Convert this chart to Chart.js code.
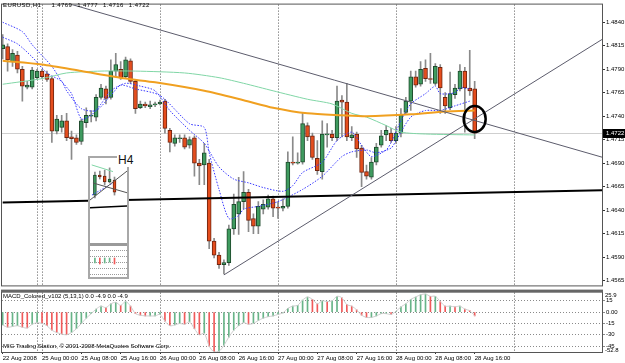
<!DOCTYPE html>
<html>
<head>
<meta charset="utf-8">
<script src="https://cdn.jsdelivr.net/npm/chart.js@4.4.1/dist/chart.umd.min.js"></script>
<style>
html,body{margin:0;padding:0;background:#fff;}
#wrap{position:relative;width:625px;height:363px;overflow:hidden;background:#fff;}
#wrap canvas{position:absolute;display:block;}
.t{position:absolute;font-family:"Liberation Sans",Arial,sans-serif;font-size:6px;line-height:7px;color:#000;white-space:pre;}
#inset{position:absolute;left:88px;top:156px;width:41px;height:123px;box-sizing:border-box;border:2px solid #a8a8a8;background:#fff;}
#h4{position:absolute;left:117px;top:153px;font-family:"Liberation Sans",Arial,sans-serif;font-size:12px;line-height:14px;background:#fff;padding:0 1px;color:#111;}
</style>
</head>
<body>
<div id="wrap">
  <canvas id="main" width="625" height="290" style="left:0;top:0;width:625px;height:290px"></canvas>
  <canvas id="macd" width="625" height="75" style="left:0;top:288px;width:625px;height:75px"></canvas>
  <div id="inset">
    <canvas id="miniPrice" width="37" height="85" style="left:0;top:0;width:37px;height:85px"></canvas>
    <div style="position:absolute;left:0;top:85px;width:37px;height:3px;background:#9a9a9a"></div>
    <canvas id="miniMacd" width="37" height="31" style="left:0;top:88px;width:37px;height:31px"></canvas>
  </div>
  <div id="h4">H4</div>
  <div class="t" id="title" style="left:3px;top:2px;letter-spacing:0.4px;word-spacing:3px"></div>
  <div class="t" id="macdLabel" style="left:3px;top:293px"></div>
  <div class="t" id="copy" style="left:3px;top:343px">MIG Trading Station, © 2001-2008 MetaQuotes Software Corp.</div>
</div>
<script>
// ---------- DATA ----------
const symbol = 'EURUSD,H1';
const opens  = [1.4812,1.4814,1.4798,1.4805,1.4790,1.4771,1.4771,1.4781,1.4788,1.4785,1.4780,1.4724,1.4728,1.4735,1.4718,1.4717,1.4713,1.4733,1.4740,1.4739,1.4760,1.4769,1.4760,1.4788,1.4790,1.4782,1.4799,1.4777,1.4749,1.4753,1.4750,1.4752,1.4753,1.4756,1.4725,1.4711,1.4716,1.4717,1.4709,1.4717,1.4690,1.4688,1.4690,1.4607,1.4592,1.4582,1.4584,1.4620,1.4636,1.4649,1.4659,1.4631,1.4623,1.4641,1.4643,1.4652,1.4643,1.4642,1.4644,1.4691,1.4690,1.4691,1.4730,1.4719,1.4695,1.4681,1.4720,1.4721,1.4717,1.4757,1.4755,1.4717,1.4721,1.4706,1.4681,1.4675,1.4691,1.4709,1.4720,1.4722,1.4714,1.4722,1.4744,1.4756,1.4782,1.4774,1.4791,1.4780,1.4775,1.4792,1.4760,1.4749,1.4763,1.4769,1.4788,1.4770,1.4769];
const highs  = [1.4827,1.4817,1.4811,1.4809,1.4793,1.4777,1.4792,1.4790,1.4790,1.4788,1.4782,1.4741,1.4741,1.4743,1.4724,1.4720,1.4737,1.4749,1.4746,1.4763,1.4774,1.4772,1.4800,1.4807,1.4798,1.4803,1.4801,1.4779,1.4756,1.4755,1.4756,1.4755,1.4757,1.4758,1.4727,1.4720,1.4720,1.4720,1.4718,1.4719,1.4694,1.4711,1.4694,1.4610,1.4595,1.4587,1.4624,1.4657,1.4675,1.4681,1.4662,1.4636,1.4649,1.4651,1.4656,1.4655,1.4649,1.4652,1.4702,1.4718,1.4701,1.4743,1.4733,1.4722,1.4714,1.4735,1.4732,1.4725,1.4772,1.4762,1.4775,1.4729,1.4723,1.4709,1.4688,1.4696,1.4711,1.4725,1.4730,1.4727,1.4729,1.4748,1.4760,1.4788,1.4788,1.4798,1.4800,1.4807,1.4796,1.4795,1.4765,1.4787,1.4774,1.4795,1.4792,1.4810,1.4777];
const lows   = [1.4801,1.4788,1.4793,1.4786,1.4756,1.4769,1.4769,1.4779,1.4780,1.4777,1.4712,1.4721,1.4723,1.4714,1.4694,1.4710,1.4710,1.4728,1.4734,1.4735,1.4758,1.4753,1.4758,1.4782,1.4779,1.4780,1.4775,1.4743,1.4748,1.4749,1.4748,1.4750,1.4752,1.4722,1.4702,1.4708,1.4712,1.4705,1.4706,1.4676,1.4667,1.4667,1.4599,1.4589,1.4578,1.4572,1.4581,1.4614,1.4614,1.4641,1.4617,1.4615,1.4615,1.4636,1.4641,1.4633,1.4631,1.4639,1.4642,1.4688,1.4689,1.4689,1.4714,1.4694,1.4678,1.4673,1.4707,1.4714,1.4714,1.4718,1.4714,1.4714,1.4696,1.4665,1.4673,1.4673,1.4688,1.4707,1.4714,1.4712,1.4711,1.4718,1.4742,1.4746,1.4771,1.4772,1.4777,1.4775,1.4773,1.4743,1.4743,1.4747,1.4759,1.4767,1.4723,1.4762,1.4716];
const closes = [1.4816,1.4800,1.4807,1.4790,1.4772,1.4773,1.4789,1.4788,1.4782,1.4779,1.4724,1.4737,1.4735,1.4717,1.4716,1.4712,1.4735,1.4741,1.4741,1.4760,1.4770,1.4759,1.4788,1.4795,1.4781,1.4800,1.4777,1.4748,1.4753,1.4751,1.4752,1.4753,1.4755,1.4727,1.4712,1.4717,1.4717,1.4707,1.4715,1.4690,1.4687,1.4701,1.4607,1.4592,1.4582,1.4584,1.4620,1.4646,1.4649,1.4659,1.4629,1.4623,1.4644,1.4646,1.4652,1.4642,1.4642,1.4644,1.4691,1.4690,1.4691,1.4732,1.4718,1.4696,1.4682,1.4721,1.4721,1.4717,1.4756,1.4755,1.4718,1.4720,1.4705,1.4680,1.4676,1.4691,1.4707,1.4719,1.4725,1.4714,1.4722,1.4741,1.4756,1.4782,1.4773,1.4790,1.4780,1.4779,1.4793,1.4770,1.4751,1.4764,1.4770,1.4788,1.4770,1.4767,1.4722];

// moving averages: [bar index, price]
const orangeMA = [[0,1.4799],[8,1.4795],[16,1.4788],[25,1.4780],[31,1.4776],[41,1.4767],[49,1.4757],[55,1.4749],[62,1.4743],[69,1.4741],[74,1.4740],[83,1.4742],[90,1.4745],[96,1.4746]];
const greenMA  = [[0,1.4774],[8,1.4780],[13,1.4786],[20,1.4788],[27,1.4788],[37,1.4786],[44,1.4781],[49,1.4775],[55,1.4767],[62,1.4758],[67,1.4753],[71,1.4743],[74,1.4739],[78,1.4730],[81,1.4723],[86,1.4721],[96,1.4720]];
const blueA = [[0,1.4840],[4,1.4830],[6,1.4816],[10,1.4793],[12,1.4777],[14,1.4764],[16,1.4737],[18,1.4741],[20,1.4753],[22,1.4767],[25,1.4775],[28,1.4772],[31,1.4767],[34,1.4746],[38,1.4725],[41,1.4711],[44,1.4686],[47,1.4673],[50,1.4669],[53,1.4664],[57,1.4660],[59,1.4666],[61,1.4680],[65,1.4691],[68,1.4714],[71,1.4723],[73,1.4709],[75,1.4697],[78,1.4704],[79,1.4712],[81,1.4735],[83,1.4753],[86,1.4764],[88,1.4772],[89,1.4764],[92,1.4765],[93,1.4770],[95,1.4769]];
const blueB = [[0,1.4824],[3,1.4817],[6,1.4803],[9,1.4786],[12,1.4777],[13,1.4767],[16,1.4748],[19,1.4746],[22,1.4762],[24,1.4773],[27,1.4769],[32,1.4762],[38,1.4732],[41,1.4728],[42,1.4701],[44,1.4662],[46,1.4631],[48,1.4634],[49,1.4641],[52,1.4644],[56,1.4649],[61,1.4662],[65,1.4676],[69,1.4697],[71,1.4702],[74,1.4704],[76,1.4701],[79,1.4706],[80,1.4714],[83,1.4739],[86,1.4746],[89,1.4746],[92,1.4751],[95,1.4756]];

// trend lines: [bar, price] end points
const resistanceLine = [[10,1.4865],[122,1.46962]];
const supportLine    = [[45,1.4571],[122,1.4822]];
const levelLine      = [[0,1.4648],[122,1.4661]];
const circleMark     = [96,1.4737];

const priceTicks = [1.4565,1.4590,1.4615,1.4640,1.4665,1.4690,1.4715,1.4740,1.4765,1.4790,1.4815,1.4840];
const timeTickBars = [0,8,16,24,32,40,48,56,64,72,80,88,96];
const timeTickLabels = ['22 Aug 2008','25 Aug 00:00','25 Aug 08:00','25 Aug 16:00','26 Aug 00:00','26 Aug 08:00','26 Aug 16:00','27 Aug 00:00','27 Aug 08:00','27 Aug 16:00','28 Aug 00:00','28 Aug 08:00','28 Aug 16:00'];
const daySeparatorBars = [7,8,32,56,80,104];

// MACD (5,13,1) histogram values read per bar
const macdValues = [-17,-20,-19,-18,-20,-21,-16,-14,-15,-18,-24,-27,-29,-30,-27,-22,-15,-8,-2,4,8,6,11,13,9,14,8,-2,-4,-5,-5,-5,-3,-12,-18,-17,-15,-16,-13,-22,-30,-28,-45,-52.8,-52,-44,-33,-24,-18,-14,-16,-15,-11,-8,-6,-5,-3,-1,5,8,9,16,20,17,11,15,14,15,21,19,10,8,3,-4,-7,-7,-5,-2,-2,-3,1,7,11,17,20,23,24,21,21,14,8,8,7,8,4,2,-4.9];
const macdTicks = [15,0,-15,-30,-45];
const macdMin = -52.8, macdMax = 25.9;

// H4 inset
const miniOpen  = [1.4734,1.4815,1.4811,1.4787,1.4795];
const miniHigh  = [1.4827,1.4831,1.4835,1.4844,1.4807];
const miniLow   = [1.4722,1.4799,1.4775,1.4783,1.4734];
const miniClose = [1.4815,1.4807,1.4787,1.4799,1.4746];
const miniGreen = [[-0.65,1.4856],[3.7,1.4829]];
const miniUp    = [[-1,1.4714],[6.8,1.4835]];
const miniDown  = [[-0.4,1.4783],[6.8,1.4742]];
const miniBlue  = [[-0.6,1.4734],[3.7,1.4783]];
const miniLevel = [[-1.2,1.4682],[6.8,1.4690]];
const miniMacd  = [-5,-6,-5,-4,-6];

// ---------- HELPERS ----------
const FONT = '"Liberation Sans", Arial, sans-serif';
const pts = arr => arr.map(p => ({x:p[0], y:p[1]}));
const bars = opens.map((o,i)=>i);
const lastIdx = closes.length - 1;
const fmt4 = v => v.toFixed(4);

document.getElementById('title').textContent =
  symbol + '  ' + [opens[lastIdx],highs[lastIdx],lows[lastIdx],closes[lastIdx]].map(fmt4).join(' ');
const lastMacd = macdValues[macdValues.length-1].toFixed(1);
document.getElementById('macdLabel').textContent =
  'MACD_Colored_v102 (5,13,1) 0.0 ' + lastMacd + ' 0.0 ' + lastMacd;

const GREEN='#3f9b5f', GREEN_B='#1e4a2c', RED='#e54d1d', RED_B='#6e2410';
const bodyColors = bars.map(i => closes[i] >= opens[i] ? GREEN : RED);
const bodyBorders = bars.map(i => closes[i] >= opens[i] ? GREEN_B : RED_B);

const lineDs = (data, color, width, extra) => Object.assign({
  type:'line', data: pts(data), borderColor: color, borderWidth: width,
  pointRadius:0, fill:false, tension:0.25
}, extra||{});

const X_MIN = -0.14, X_MAX = 121.9;

const separatorPlugin = {
  id:'seps',
  beforeDatasetsDraw(chart){
    const {ctx, chartArea:a, scales} = chart;
    ctx.save();
    ctx.strokeStyle = '#555'; ctx.lineWidth = 1; ctx.setLineDash([1,2]);
    daySeparatorBars.forEach(b => {
      const x = Math.round(scales.x.getPixelForValue(b)) + 0.5;
      ctx.beginPath(); ctx.moveTo(x, a.top); ctx.lineTo(x, a.bottom); ctx.stroke();
    });
    ctx.restore();
  }
};

// ---------- MAIN CHART ----------
const mainPlugin = {
  id:'mainExtras',
  beforeDatasetsDraw(chart){
    const {ctx, chartArea:a, scales} = chart;
    const y = Math.round(scales.y.getPixelForValue(closes[lastIdx])) + 0.5;
    ctx.save();
    ctx.strokeStyle = '#cfcfcf'; ctx.lineWidth = 1;
    ctx.beginPath(); ctx.moveTo(a.left, y); ctx.lineTo(a.right, y); ctx.stroke();
    ctx.restore();
  },
  afterDraw(chart){
    const {ctx, chartArea:a, scales} = chart;
    ctx.save();
    ctx.strokeStyle = '#000'; ctx.lineWidth = 2.5;
    ctx.beginPath();
    ctx.ellipse(scales.x.getPixelForValue(circleMark[0]), scales.y.getPixelForValue(circleMark[1]), 11, 13, 0, 0, Math.PI*2);
    ctx.stroke();
    ctx.strokeStyle = '#555'; ctx.lineWidth = 1;
    ctx.strokeRect(a.left - 0.5, a.top - 0.5, a.right - a.left + 1, a.bottom - a.top + 1);
    const y = scales.y.getPixelForValue(closes[lastIdx]);
    ctx.fillStyle = '#000';
    ctx.fillRect(a.right + 1, Math.round(y) - 4, 23, 9);
    ctx.fillStyle = '#fff';
    ctx.font = '6px ' + FONT; ctx.textBaseline = 'middle'; ctx.textAlign = 'left';
    ctx.fillText(fmt4(closes[lastIdx]), a.right + 4, Math.round(y) + 0.5);
    ctx.restore();
  }
};

new Chart(document.getElementById('main'), {
  type:'bar',
  data:{ datasets:[
    lineDs(resistanceLine, '#5c5c6c', 1, {tension:0, order:1}),
    lineDs(supportLine, '#5c5c6c', 1, {tension:0, order:1}),
    lineDs(levelLine, '#000', 2, {tension:0, order:2}),
    lineDs(orangeMA, '#f0a020', 2, {order:3}),
    lineDs(greenMA, '#80d6a6', 1, {order:3}),
    lineDs(blueA, '#3a3aff', 1, {borderDash:[1.5,1.5], order:3}),
    lineDs(blueB, '#3a3aff', 1, {borderDash:[1.5,1.5], order:3}),
    { type:'bar', data: bars.map(i => ({x:i, y:[opens[i], closes[i]]})),
      backgroundColor: bodyColors, borderColor: bodyBorders, borderWidth:1, borderSkipped:false,
      barThickness:4, grouped:false, minBarLength:1, order:5 },
    { type:'bar', data: bars.map(i => ({x:i, y:[lows[i], highs[i]]})),
      backgroundColor:'#8a8a8a', borderWidth:0, barThickness:1, grouped:false, order:6 }
  ]},
  options:{
    responsive:false, animation:false, devicePixelRatio:1, events:[],
    layout:{padding:{left:2, top:2, right:0, bottom:2}},
    plugins:{legend:{display:false}, tooltip:{enabled:false}},
    scales:{
      x:{type:'linear', min:X_MIN, max:X_MAX, offset:false, display:false, grid:{offset:false}},
      y:{position:'right', min:1.45598, max:1.48588,
         afterBuildTicks: s => { s.ticks = priceTicks.map(v => ({value:v})); },
         afterFit: s => { s.width = 23; },
         grid:{drawOnChartArea:false, drawTicks:true, tickLength:3, color:'#333'},
         border:{display:false},
         ticks:{font:{family:FONT, size:6}, color:'#000', padding:1, callback: v => fmt4(v)}
      }
    }
  },
  plugins:[separatorPlugin, mainPlugin]
});

// ---------- MACD CHART ----------
const macdColors = macdValues.map((v,i) => (i === 0 || v >= macdValues[i-1]) ? '#68b488' : '#f05a5a');
const macdPlugin = {
  id:'macdExtras',
  afterDraw(chart){
    const {ctx, chartArea:a} = chart;
    ctx.save();
    ctx.strokeStyle = '#555'; ctx.lineWidth = 1;
    ctx.strokeRect(a.left - 0.5, a.top - 0.5, a.right - a.left + 1, a.bottom - a.top + 1);
    ctx.fillStyle = '#666';
    ctx.fillRect(a.left - 1, a.top - 3, a.right - a.left + 2, 2.5);
    ctx.fillStyle = '#000'; ctx.font = '6px ' + FONT; ctx.textAlign='left'; ctx.textBaseline='top';
    ctx.fillText(macdMax.toFixed(1), a.right + 3, a.top);
    ctx.textBaseline='bottom';
    ctx.fillText(macdMin.toFixed(1), a.right + 3, a.bottom + 1);
    ctx.restore();
  }
};
new Chart(document.getElementById('macd'), {
  type:'bar',
  data:{ datasets:[
    { type:'line', data: bars.map(i => ({x:i, y:macdValues[i]})), borderColor:'#cdcdcd', borderWidth:1, pointRadius:0, tension:0.3, order:1 },
    { type:'bar', data: bars.map(i => ({x:i, y:macdValues[i]})), backgroundColor: macdColors, barThickness:1, grouped:false, order:2 }
  ]},
  options:{
    responsive:false, animation:false, devicePixelRatio:1, events:[],
    layout:{padding:{left:2, top:3, right:0, bottom:0}},
    plugins:{legend:{display:false}, tooltip:{enabled:false}},
    scales:{
      x:{type:'linear', min:X_MIN, max:X_MAX, offset:false,
         afterBuildTicks: s => { s.ticks = timeTickBars.map(v => ({value:v})); },
         afterFit: s => { s.height = 11; },
         grid:{drawOnChartArea:false, drawTicks:true, tickLength:2, color:'#333', offset:false},
         border:{display:false},
         ticks:{font:{family:FONT, size:6}, color:'#000', padding:1, align:'start', autoSkip:false, maxRotation:0,
                callback:(v,i) => timeTickLabels[i]}
      },
      y:{position:'right', min:macdMin, max:macdMax,
         afterBuildTicks: s => { s.ticks = macdTicks.map(v => ({value:v})); },
         afterFit: s => { s.width = 23; },
         grid:{drawOnChartArea:true, drawTicks:true, tickLength:3, color:'#8a8a8a'},
         border:{display:false, dash:[1,2]},
         ticks:{font:{family:FONT, size:6}, color:'#000', padding:1, callback: v => v === 0 ? '0.00' : String(v)}
      }
    }
  },
  plugins:[separatorPlugin, macdPlugin]
});

// ---------- H4 INSET ----------
const miniIdx = miniOpen.map((o,i)=>i);
new Chart(document.getElementById('miniPrice'), {
  type:'bar',
  data:{ datasets:[
    lineDs(miniGreen, '#80d6a6', 1, {tension:0, order:1}),
    lineDs(miniUp, '#555', 1, {tension:0, order:1}),
    lineDs(miniDown, '#555', 1, {tension:0, order:1}),
    lineDs(miniBlue, '#3a3aff', 1, {tension:0, borderDash:[1.5,1.5], order:1}),
    lineDs(miniLevel, '#000', 1.5, {tension:0, order:1}),
    { type:'bar', data: miniIdx.map(i => ({x:i, y:[miniOpen[i], miniClose[i]]})),
      backgroundColor: miniIdx.map(i => miniClose[i] >= miniOpen[i] ? GREEN : RED),
      borderColor: miniIdx.map(i => miniClose[i] >= miniOpen[i] ? GREEN_B : RED_B),
      borderWidth:1, borderSkipped:false, barThickness:3, grouped:false, minBarLength:1, order:2 },
    { type:'bar', data: miniIdx.map(i => ({x:i, y:[miniLow[i], miniHigh[i]]})),
      backgroundColor:'#8a8a8a', barThickness:1, grouped:false, order:3 }
  ]},
  options:{
    responsive:false, animation:false, devicePixelRatio:1, events:[],
    layout:{padding:0},
    plugins:{legend:{display:false}, tooltip:{enabled:false}},
    scales:{
      x:{type:'linear', min:-1, max:6.55, display:false, offset:false},
      y:{min:1.4540, max:1.4884, display:false}
    }
  }
});
new Chart(document.getElementById('miniMacd'), {
  type:'bar',
  data:{ datasets:[
    { data: miniIdx.map(i => ({x:i, y:miniMacd[i]})),
      backgroundColor: miniIdx.map(i => (i===0 || miniMacd[i] >= miniMacd[i-1]) ? '#68b488' : '#f05a5a'),
      barThickness:1, grouped:false }
  ]},
  options:{
    responsive:false, animation:false, devicePixelRatio:1, events:[],
    layout:{padding:0},
    plugins:{legend:{display:false}, tooltip:{enabled:false}},
    scales:{
      x:{type:'linear', min:-1, max:6.55, display:false, offset:false},
      y:{min:-19, max:12, display:true, position:'left',
         afterFit: s => { s.width = 0; },
         afterBuildTicks: s => { s.ticks = [8,2,-4,-10,-16].map(v => ({value:v})); },
         ticks:{display:false}, grid:{color:'#9a9a9a', drawTicks:false}, border:{display:false, dash:[1,1]}}
    }
  }
});
</script>
</body>
</html>
